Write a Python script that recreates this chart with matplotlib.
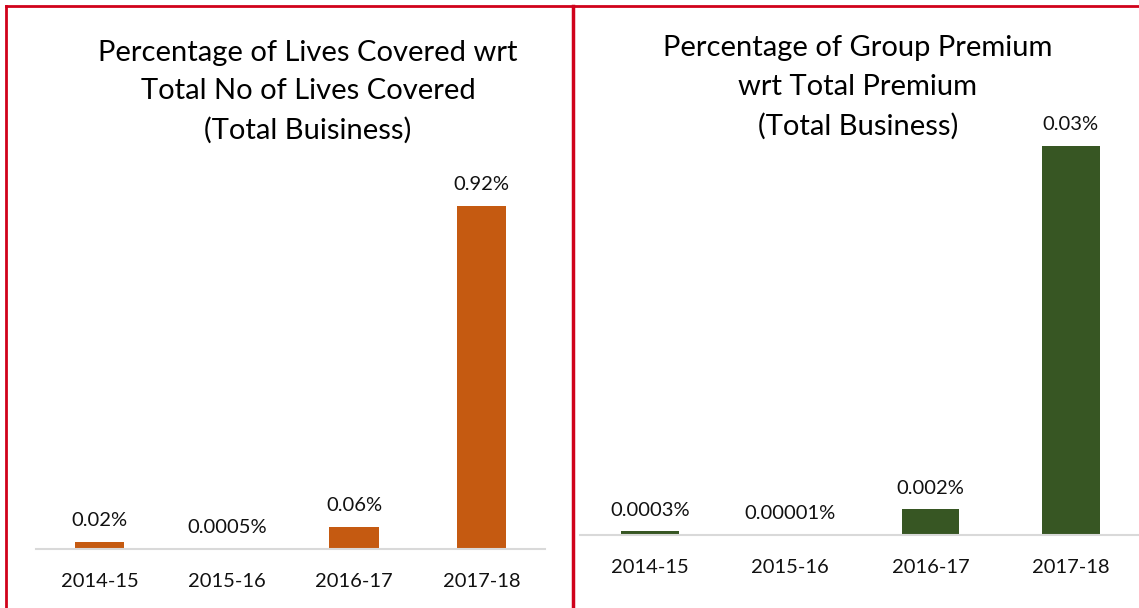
import matplotlib.pyplot as plt
from matplotlib.lines import Line2D

# data
years = ["2014-15", "2015-16", "2016-17", "2017-18"]
lives_pct = [0.02, 0.0005, 0.06, 0.92]
lives_labels = ["0.02%", "0.0005%", "0.06%", "0.92%"]
premium_pct = [0.0003, 0.00001, 0.002, 0.03]
premium_labels = ["0.0003%", "0.00001%", "0.002%", "0.03%"]
lives_title = ["Percentage of Lives Covered wrt", "Total No of Lives Covered", "(Total Buisiness)"]
premium_title = ["Percentage of Group Premium", "wrt Total Premium", "(Total Business)"]

plt.rcParams["font.family"] = ["Lato", "DejaVu Sans"]

W, H = 1139, 608
fig = plt.figure(figsize=(W / 100, H / 100), dpi=100)


def px_axes(x0, y_base, width, height):
    return fig.add_axes([x0 / W, (H - y_base) / H, width / W, height / H])


def draw_panel(ax, values, labels, color, ymax, bar_w):
    x = range(len(years))
    ax.bar(x, values, width=bar_w, color=color)
    for xi, v, lab in zip(x, values, labels):
        ax.annotate(lab, (xi, v), xytext=(0, 9), textcoords="offset points",
                    ha="center", va="bottom", fontsize=14.5, color="#111111")
    ax.set_xlim(-0.5, 3.5)
    ax.set_ylim(0, ymax)
    ax.set_xticks(list(x))
    ax.set_xticklabels(years, fontsize=14.5, color="#111111")
    ax.tick_params(axis="x", length=0, pad=17)
    ax.set_yticks([])
    for s in ["top", "left", "right"]:
        ax.spines[s].set_visible(False)
    ax.spines["bottom"].set_color("#d9d9d9")
    ax.spines["bottom"].set_linewidth(1.5)
    ax.patch.set_alpha(0)


def draw_title(lines, xc, ys):
    for line, y in zip(lines, ys):
        fig.text(xc / W, 1 - y / H, line, ha="center", va="center",
                 fontsize=21, color="#000000")


# left panel
ax1 = px_axes(36, 549, 509, 373)
draw_panel(ax1, lives_pct, lives_labels, "#C55A11", 1.0, 0.39)
draw_title(lives_title, 308, [53, 91, 130])

# right panel
ax2 = px_axes(580, 535, 561, 454)
draw_panel(ax2, premium_pct, premium_labels, "#375623", 0.035, 0.41)
draw_title(premium_title, 858, [48, 87, 126])

# red frame lines
red = "#D0021B"
fig.add_artist(Line2D([6 / W, 1], [1 - 6 / H, 1 - 6 / H], color=red, lw=2))
fig.add_artist(Line2D([6 / W, 6 / W], [0, 1 - 6 / H], color=red, lw=2))
fig.add_artist(Line2D([573 / W, 573 / W], [0, 1 - 6 / H], color=red, lw=2.5))

fig.savefig("out.png", dpi=100)
